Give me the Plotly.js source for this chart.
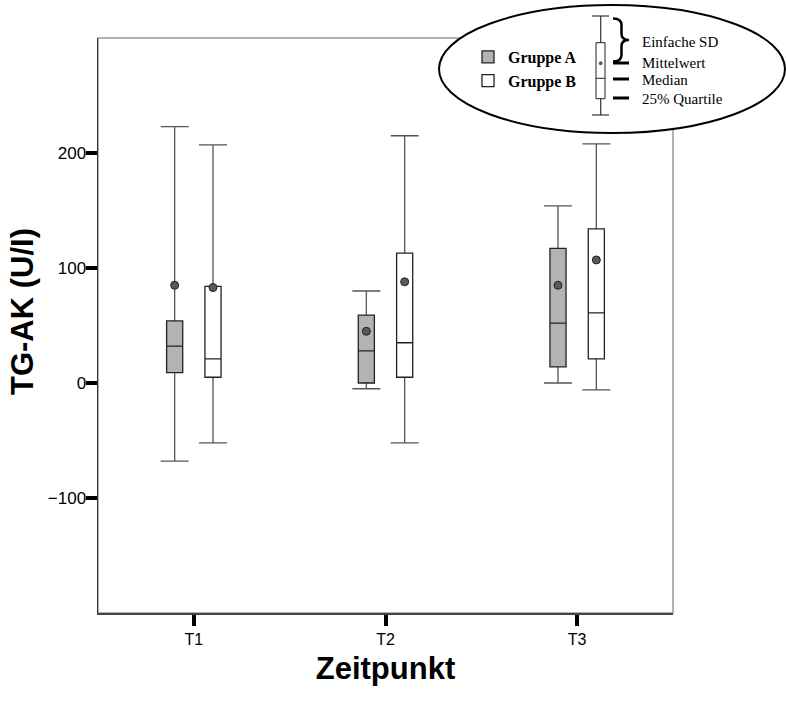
<!DOCTYPE html>
<html>
<head>
<meta charset="utf-8">
<script src="https://cdn.plot.ly/plotly-3.0.1.min.js"></script>
<style>
html, body { margin: 0; padding: 0; background: #fff; }
#chart { width: 786px; height: 706px; }
</style>
</head>
<body>
<div id="chart"></div>
<script>
// ---- data ----
const categories = ['T1', 'T2', 'T3'];
const groupNames = ['Gruppe A', 'Gruppe B'];

// Gruppe A
const lowA  = [-68, -5, 0];     // mean - SD
const q1A   = [9, 0, 14];
const medA  = [32, 28, 52];
const q3A   = [54, 59, 117];
const meanA = [85, 45, 85];
const highA = [223, 80, 154];   // mean + SD

// Gruppe B
const lowB  = [-52, -52, -6];
const q1B   = [5, 5, 21];
const medB  = [21, 35, 61];
const q3B   = [84, 113, 134];
const meanB = [83, 88, 107];
const highB = [207, 215, 208];

const yTicks = [-100, 0, 100, 200];

// ---- layout helpers ----
const W = 786, H = 706;
const M = {l: 98, r: 113, t: 38, b: 93};
const PW = W - M.l - M.r, PH = H - M.t - M.b;
const px = x => (x - M.l) / PW;
const py = y => (M.t + PH - y) / PH;

const offset = 0.1;            // group offset within category (data units)
const boxW = 0.084;            // box width (data units)
const capW = 0.146;            // whisker cap width (data units)
const idx = categories.map((c, i) => i);
const xA = idx.map(i => i - offset);
const xB = idx.map(i => i + offset);

const sansFont = 'Liberation Sans, Arial, Helvetica, sans-serif';
const serifFont = 'Liberation Serif, Times New Roman, serif';

function whiskerTrace(x, lo, hi) {
  return {
    type: 'box', x: x,
    q1: lo, median: lo, q3: lo, lowerfence: lo, upperfence: hi,
    width: capW, whiskerwidth: 1, boxpoints: false,
    fillcolor: 'rgba(0,0,0,0)',
    line: {color: '#555', width: 1.3},
    showlegend: false, hoverinfo: 'skip'
  };
}
function boxTrace(name, x, q1, med, q3, fill) {
  return {
    type: 'box', name: name, x: x,
    q1: q1, median: med, q3: q3, lowerfence: q1, upperfence: q3,
    width: boxW, whiskerwidth: 0, boxpoints: false,
    fillcolor: fill,
    line: {color: '#222', width: 1.3}
  };
}
function meanTrace(x, mean) {
  return {
    type: 'scatter', mode: 'markers', x: x, y: mean,
    marker: {symbol: 'circle', size: 8, color: '#5a5a5a', line: {color: '#222', width: 1}},
    showlegend: false, hoverinfo: 'skip'
  };
}

const traces = [
  whiskerTrace(xA, lowA, highA),
  whiskerTrace(xB, lowB, highB),
  boxTrace(groupNames[0], xA, q1A, medA, q3A, '#b3b3b3'),
  boxTrace(groupNames[1], xB, q1B, medB, q3B, '#ffffff'),
  meanTrace(xA, meanA),
  meanTrace(xB, meanB)
];

// legend key decorations (pixel -> paper)
const line = (x0, y0, x1, y1, w, c) => ({type: 'line', xref: 'paper', yref: 'paper',
  x0: px(x0), y0: py(y0), x1: px(x1), y1: py(y1), line: {color: c || '#000', width: w}, layer: 'above'});
const P = (x, y) => px(x).toFixed(5) + ',' + py(y).toFixed(5);
const bracePath = 'M' + P(613, 18.5) + ' Q' + P(621.5, 18.5) + ' ' + P(621.5, 25) +
  ' L' + P(621.5, 34) + ' Q' + P(621.5, 40) + ' ' + P(629, 40) +
  ' Q' + P(621.5, 40) + ' ' + P(621.5, 46) + ' L' + P(621.5, 55) +
  ' Q' + P(621.5, 61.5) + ' ' + P(613, 61.5);

const shapes = [
  // plot frame (light)
  {type: 'rect', xref: 'paper', yref: 'paper', x0: 0, y0: 0, x1: 1, y1: 1,
   line: {color: '#999', width: 1.5}, layer: 'below'},
  // legend ellipse
  {type: 'circle', xref: 'paper', yref: 'paper', x0: px(439), x1: px(785), y0: py(133), y1: py(5),
   fillcolor: '#fff', line: {color: '#000', width: 2}, layer: 'above'},
  // mini box plot
  line(600.7, 16, 600.7, 115, 1.2, '#333'),
  line(592, 16, 609, 16, 1.2, '#333'),
  line(592, 115, 609, 115, 1.2, '#333'),
  {type: 'rect', xref: 'paper', yref: 'paper', x0: px(596), x1: px(605), y0: py(98.7), y1: py(42.7),
   fillcolor: '#fff', line: {color: '#222', width: 1}, layer: 'above'},
  line(596, 78.3, 605, 78.3, 1, '#222'),
  {type: 'circle', xref: 'paper', yref: 'paper', x0: px(599), x1: px(602.4), y0: py(65), y1: py(61.6),
   fillcolor: '#555', line: {color: '#555', width: 0.5}, layer: 'above'},
  // brace
  {type: 'path', xref: 'paper', yref: 'paper', path: bracePath, line: {color: '#000', width: 2.5}, layer: 'above'},
  // dashes
  line(613, 63, 629, 63, 3),
  line(613, 79, 629, 79, 3),
  line(613, 98, 629, 98, 3)
];

const keyText = (t, y) => ({text: t, xref: 'paper', yref: 'paper', x: px(641), y: py(y),
  xanchor: 'left', yanchor: 'middle', showarrow: false, borderpad: 0,
  font: {family: serifFont, size: 15, color: '#000'}});
const annotations = [
  keyText('Einfache SD', 42),
  keyText('Mittelwert', 63),
  keyText('Median', 80),
  keyText('25% Quartile', 99),
  // y axis title (placed to match reference position)
  {text: 'TG-AK (U/I)', xref: 'paper', yref: 'paper', x: px(22), y: py(312),
   xanchor: 'center', yanchor: 'middle', textangle: -90, showarrow: false,
   font: {family: sansFont, size: 31, color: '#000', weight: 'bold'}}
];

const layout = {
  width: W, height: H,
  margin: M,
  paper_bgcolor: '#fff', plot_bgcolor: '#fff',
  showlegend: true,
  boxmode: 'overlay',
  legend: {
    x: px(468), y: py(40), xanchor: 'left', yanchor: 'top',
    bgcolor: 'rgba(0,0,0,0)', borderwidth: 0, tracegroupgap: 0,
    font: {family: serifFont, size: 16, color: '#000', weight: 'bold'}
  },
  xaxis: {
    range: [-0.5, 2.5],
    tickvals: idx, ticktext: categories,
    showgrid: false, zeroline: false,
    showline: true, linecolor: '#444', linewidth: 1.5,
    ticks: 'outside', ticklen: 11, tickwidth: 4, tickcolor: '#000',
    tickfont: {family: sansFont, size: 16, color: '#000'},
    title: {text: 'Zeitpunkt', standoff: 10, font: {family: sansFont, size: 31, color: '#000', weight: 'bold'}}
  },
  yaxis: {
    range: [-200, 300],
    tickvals: yTicks,
    showgrid: false, zeroline: false,
    showline: true, linecolor: '#333', linewidth: 1.5,
    ticks: 'outside', ticklen: 11, tickwidth: 4, tickcolor: '#000',
    ticklabelstandoff: -4,
    tickfont: {family: sansFont, size: 17, color: '#000'}
  },
  shapes: shapes,
  annotations: annotations
};

Plotly.newPlot('chart', traces, layout, {staticPlot: true, displayModeBar: false});
</script>
</body>
</html>
